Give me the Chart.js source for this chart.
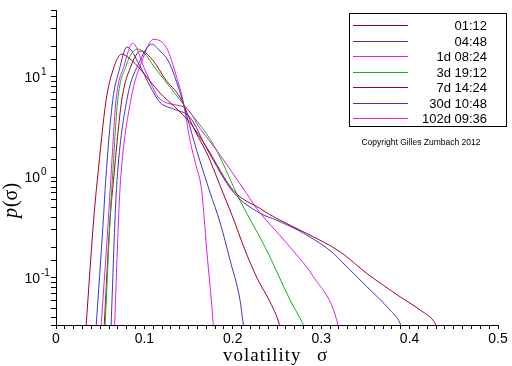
<!DOCTYPE html>
<html>
<head>
<meta charset="utf-8">
<script src="https://cdn.jsdelivr.net/npm/chart.js@4/dist/chart.umd.min.js"></script>
<style>
  body { margin: 0; background: #fff; }
</style>
</head>
<body>
<canvas id="vol" width="512" height="366"></canvas>
<script>
// volatility distributions, one series per time horizon
labels = ['01:12', '04:48', '1d 08:24', '3d 19:12', '7d 14:24', '30d 10:48', '102d 09:36']

sigma_0112 = [0.0339, 0.043, 0.0467, 0.0566, 0.0648, 0.0743, 0.0837, 0.095, 0.1063, 0.1176, 0.1346, 0.1516, 0.1705, 0.2006, 0.2308, 0.2497, 0.2836, 0.3213, 0.3515, 0.3891, 0.4118, 0.4287, 0.432]
p_0112 = [0.032, 0.42, 0.93, 5.8, 11.9, 16.8, 15.1, 12.0, 9.1, 6.9, 5.0, 3.5, 1.98, 0.74, 0.49, 0.39, 0.277, 0.182, 0.111, 0.065, 0.048, 0.0356, 0.0306]

sigma_0448 = [0.0452, 0.0535, 0.0562, 0.0641, 0.0713, 0.0803, 0.095, 0.1063, 0.1176, 0.1327, 0.1516, 0.1705, 0.2006, 0.2308, 0.2497, 0.2836, 0.3137, 0.3213, 0.3515, 0.3778, 0.3891, 0.3914]
p_0448 = [0.031, 0.375, 0.93, 5.8, 11.5, 19.8, 12.8, 8.1, 5.57, 4.79, 3.95, 1.94, 0.71, 0.44, 0.375, 0.267, 0.176, 0.151, 0.082, 0.048, 0.0356, 0.031]

sigma_1d = [0.0509, 0.0592, 0.0619, 0.0679, 0.0769, 0.0868, 0.1007, 0.1176, 0.1479, 0.163, 0.1818, 0.2157, 0.2271, 0.261, 0.2911, 0.3175, 0.3196]
p_1d = [0.032, 0.375, 0.93, 5.8, 12.8, 21.6, 11.7, 6.0, 4.82, 3.06, 1.85, 0.69, 0.49, 0.221, 0.103, 0.0384, 0.031]

sigma_3d = [0.0554, 0.0611, 0.0637, 0.0698, 0.0792, 0.086, 0.0931, 0.1007, 0.1063, 0.1233, 0.144, 0.1787, 0.2081, 0.2383, 0.2647, 0.2797, 0.2817]
p_3d = [0.031, 0.375, 0.93, 5.8, 12.8, 17.3, 18.9, 16.9, 14.4, 9.1, 5.37, 2.07, 0.59, 0.189, 0.0605, 0.0343, 0.031]

sigma_7d = [0.0543, 0.0611, 0.065, 0.0743, 0.0848, 0.0962, 0.1101, 0.1233, 0.1403, 0.1553, 0.1719, 0.1855, 0.1991, 0.2138, 0.2285, 0.2421, 0.2528, 0.254]
p_7d = [0.031, 0.375, 0.93, 5.8, 12.8, 18.1, 14.4, 9.55, 6.24, 3.15, 1.65, 0.83, 0.42, 0.189, 0.0955, 0.0578, 0.0343, 0.031]

sigma_30d = [0.0622, 0.0667, 0.069, 0.08, 0.095, 0.1083, 0.1176, 0.127, 0.138, 0.1479, 0.1592, 0.1742, 0.1855, 0.1968, 0.2081, 0.2119, 0.2127]
p_30d = [0.031, 0.375, 0.93, 5.8, 14.4, 21.1, 18.1, 14.4, 8.1, 4.11, 1.85, 0.71, 0.358, 0.151, 0.0605, 0.0343, 0.031]

sigma_102d = [0.0662, 0.0707, 0.073, 0.0845, 0.0973, 0.1101, 0.125, 0.1365, 0.1437, 0.1516, 0.1584, 0.1648, 0.1705, 0.1779, 0.1782]
p_102d = [0.031, 0.375, 0.93, 5.8, 14.4, 23.6, 19.4, 9.9, 5.8, 2.32, 1.31, 0.74, 0.189, 0.0343, 0.031]

// axis ticks
y_decades = [0.1, 1, 10]
y_exponents = ['-1', '0', '1']

colors = ['#a8001e', '#3838c8', '#e01ee0', '#18b018', '#a8001e', '#3838c8', '#e01ee0']

sigmas = [sigma_0112, sigma_0448, sigma_1d, sigma_3d, sigma_7d, sigma_30d, sigma_102d]
probs = [p_0112, p_0448, p_1d, p_3d, p_7d, p_30d, p_102d]

datasets = []
for (let i = 0; i < labels.length; i++) {
    data = []
    for (let j = 0; j < sigmas[i].length; j++) {
        data.push({x: sigmas[i][j], y: probs[i][j]})
    }
    datasets.push({
        label: labels[i],
        data: data,
        borderColor: colors[i],
        borderWidth: 1,
        pointRadius: 0,
        fill: false,
        cubicInterpolationMode: 'monotone'
    })
}

// legend box, y tick labels and axis titles drawn by hand
decorations = {
    id: 'decorations',
    afterDraw(chart) {
        const c = chart.ctx
        const ys = chart.scales.y
        c.save()
        c.fillStyle = '#000'

        // y tick labels 10^n
        for (let i = 0; i < y_decades.length; i++) {
            const py = ys.getPixelForValue(y_decades[i])
            c.font = '14px "Liberation Sans"'
            c.textAlign = 'right'
            c.textBaseline = 'middle'
            c.fillText('10', 40, py + 1)
            c.font = '10px "Liberation Sans"'
            c.textAlign = 'left'
            c.fillText(y_exponents[i], 41, py - 5)
        }

        // x title
        c.font = '19px "Liberation Serif"'
        c.textAlign = 'left'
        c.textBaseline = 'alphabetic'
        c.letterSpacing = '1px'
        c.fillText('volatility', 223, 361)
        c.letterSpacing = '0px'
        c.fillText('σ', 317, 361)

        // y title
        c.save()
        c.translate(17, 201)
        c.rotate(-Math.PI / 2)
        c.font = 'italic 20px "Liberation Serif"'
        const wp = c.measureText('p').width
        c.font = '20px "Liberation Serif"'
        const wr = c.measureText('(σ)').width
        const x0 = -(wp + wr) / 2
        c.font = 'italic 20px "Liberation Serif"'
        c.fillText('p', x0, 0)
        c.font = '20px "Liberation Serif"'
        c.fillText('(σ)', x0 + wp + 1, 0)
        c.restore()

        // legend
        c.strokeStyle = '#000'
        c.lineWidth = 1
        c.strokeRect(349.5, 13.5, 157, 113)
        c.font = '13px "Liberation Sans"'
        c.textAlign = 'right'
        c.textBaseline = 'middle'
        chart.data.datasets.forEach(function (ds, i) {
            const ry = Math.round(25 + 15.55 * i) + 0.5
            c.strokeStyle = ds.borderColor
            c.beginPath()
            c.moveTo(353, ry)
            c.lineTo(408, ry)
            c.stroke()
            c.fillStyle = '#000'
            c.fillText(ds.label, 487, ry + 1)
        })

        c.font = '8.5px "Liberation Sans"'
        c.textAlign = 'center'
        c.fillText('Copyright Gilles Zumbach 2012', 421, 143)
        c.restore()
    }
}

ctx = document.getElementById('vol')
config = {
    type: 'line',
    data: {datasets: datasets},
    options: {
        responsive: false,
        animation: false,
        layout: {padding: {left: 0, right: 14, top: 9, bottom: 0}},
        plugins: {legend: {display: false}, tooltip: {enabled: false}},
        scales: {
            x: {
                type: 'linear',
                min: 0,
                max: 0.5,
                ticks: {
                    stepSize: 0.01,
                    autoSkip: false,
                    maxRotation: 0,
                    padding: 2,
                    color: '#000',
                    font: {family: 'Liberation Sans', size: 14},
                    callback: function (v) {
                        if (Math.abs(v * 10 - Math.round(v * 10)) > 1e-6) return ''
                        return v === 0 ? '0' : (Math.round(v * 10) / 10).toString()
                    }
                },
                grid: {drawOnChartArea: false, color: '#000', tickLength: 4},
                border: {color: '#000'},
                afterFit: function (s) { s.height = 41 }
            },
            y: {
                type: 'logarithmic',
                min: 0.034,
                max: 46,
                ticks: {autoSkip: false, callback: function () { return '' }},
                grid: {drawOnChartArea: false, color: '#000', tickLength: 5},
                border: {color: '#000'},
                afterFit: function (s) { s.width = 56 }
            }
        }
    },
    plugins: [decorations]
}
new Chart(ctx, config)
</script>
</body>
</html>
